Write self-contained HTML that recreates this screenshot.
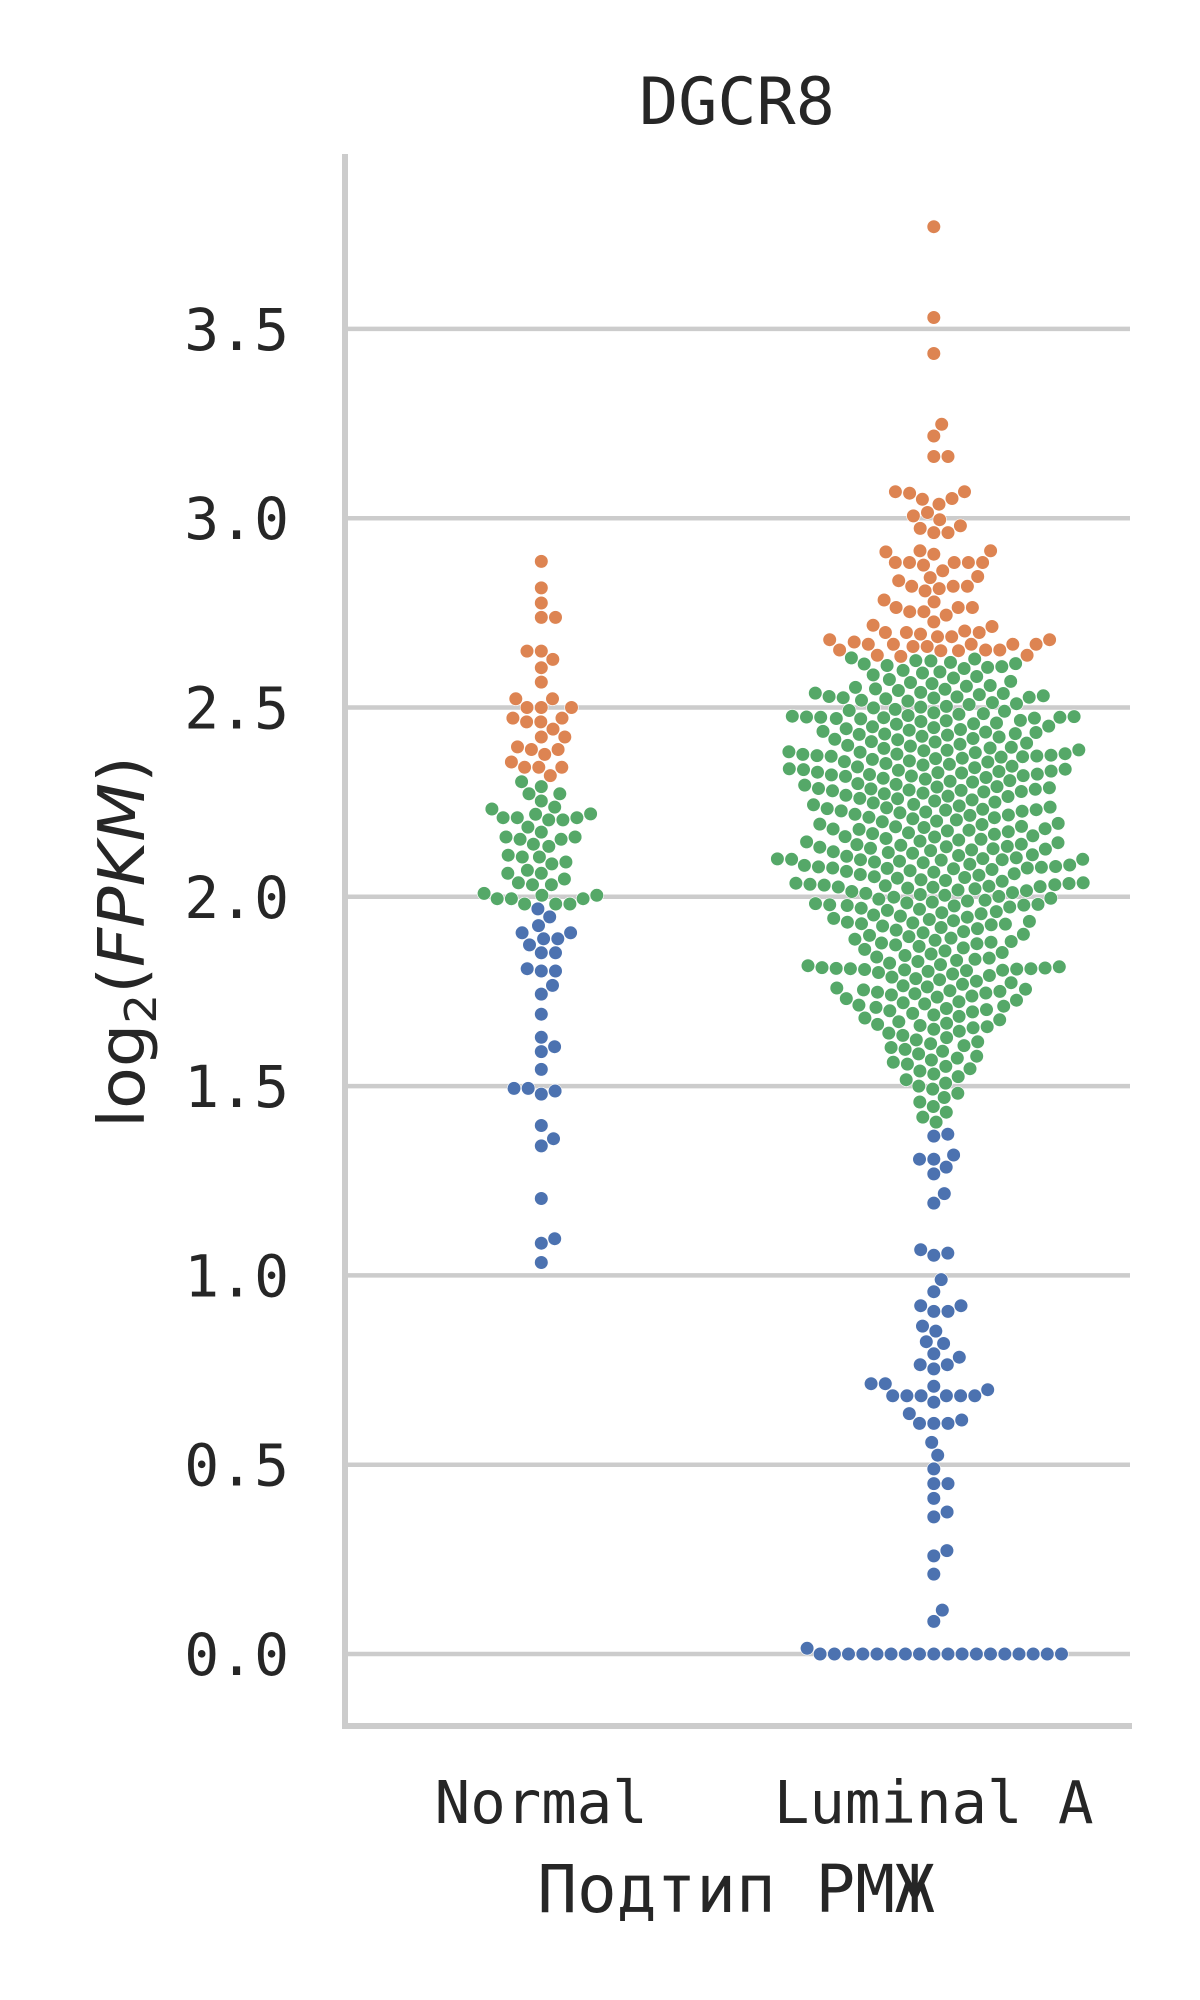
<!DOCTYPE html>
<html><head><meta charset="utf-8">
<style>
html,body{margin:0;padding:0;background:#fff;}
svg{display:block;}
text{fill:#262626;}
.mono{font-family:"DejaVu Sans Mono","Liberation Mono",monospace;}
</style></head>
<body>
<svg id="chart" width="1200" height="2000" viewBox="0 0 1200 2000" xmlns="http://www.w3.org/2000/svg">
  <g id="grid"></g>
  <g id="yticks"></g>
  <g id="points"></g>
  <line x1="345" y1="154" x2="345" y2="1729" stroke="#cccccc" stroke-width="6"/>
  <line x1="342" y1="1726" x2="1132" y2="1726" stroke="#cccccc" stroke-width="6"/>
  <text class="mono" x="737" y="124" font-size="65" text-anchor="middle">DGCR8</text>
  <g id="xticks"></g>
  <text class="mono" x="736" y="1912" font-size="66" text-anchor="middle">Подтип РМЖ</text>
  <text transform="translate(144,942) rotate(-90)" text-anchor="middle" font-size="64" font-family="DejaVu Sans, Liberation Sans, sans-serif" textLength="372" lengthAdjust="spacingAndGlyphs">log<tspan font-size="44" dy="12">2</tspan><tspan dy="-12">(</tspan><tspan font-style="italic">FPKM</tspan>)</text>
</svg>
<script>
const categories = ["Normal", "Luminal A"];
const yTicks = [0.0, 0.5, 1.0, 1.5, 2.0, 2.5, 3.0, 3.5];
const yTickLabels = ["0.0", "0.5", "1.0", "1.5", "2.0", "2.5", "3.0", "3.5"];

const normalHigh = [2.886,2.816,2.776,2.738,2.738,2.649,2.649,2.627,2.605,2.567,2.523,2.523,2.5,2.5,2.5,2.472,2.472,2.462,2.462,2.443,2.422,2.422,2.396,2.389,2.389,2.376,2.356,2.342,2.342,2.342,2.320];
const normalMid = [2.304,2.291,2.272,2.272,2.253,2.237,2.232,2.219,2.218,2.209,2.209,2.209,2.203,2.203,2.184,2.171,2.158,2.158,2.152,2.152,2.139,2.133,2.110,2.105,2.105,2.092,2.087,2.070,2.062,2.062,2.047,2.037,2.032,2.032,2.009,2.004,2.004,1.995,1.995,1.995,1.981,1.981,1.981];
const normalLow = [1.968,1.947,1.924,1.905,1.905,1.889,1.889,1.873,1.852,1.852,1.810,1.804,1.804,1.766,1.743,1.690,1.629,1.604,1.591,1.544,1.494,1.494,1.487,1.479,1.396,1.361,1.342,1.203,1.097,1.085,1.034];

const luminalHigh = [3.77,3.53,3.435,3.248,3.217,3.163,3.163,3.07,3.07,3.066,3.052,3.05,3.037,3.015,3.006,2.996,2.98,2.973,2.962,2.962,2.914,2.914,2.911,2.905,2.883,2.883,2.883,2.883,2.883,2.876,2.861,2.846,2.843,2.835,2.82,2.82,2.82,2.814,2.808,2.784,2.779,2.764,2.764,2.764,2.753,2.753,2.744,2.726,2.717,2.714,2.702,2.698,2.698,2.698,2.694,2.687,2.687,2.679,2.679,2.673,2.667,2.667,2.667,2.667,2.667,2.661,2.661,2.652,2.652,2.652,2.65,2.65,2.638,2.638,2.635];
const luminalMid = [
2.631,2.628,2.624,2.623,2.619,2.616,2.615,2.611,2.608,2.606,2.603,2.598,2.594,2.591,2.586,2.582,2.578,
2.574,2.569,2.566,2.563,2.558,2.556,2.553,2.549,2.548,2.545,2.540,2.538,2.537,2.534,2.531,2.529,2.528,2.527,2.526,2.525,
2.523,2.519,2.517,2.513,2.510,2.508,2.503,2.501,2.499,2.495,2.492,2.490,2.486,2.484,2.482,2.479,2.477,2.476,
2.475,2.474,2.474,2.473,2.472,2.471,2.470,2.466,2.465,2.463,2.459,2.457,2.456,2.451,2.449,2.447,2.444,2.442,2.440,2.437,2.435,2.434,2.431,2.430,2.429,2.427,
2.424,2.422,2.418,2.416,2.415,2.410,2.409,2.406,2.403,2.400,2.398,2.395,2.393,2.392,2.388,2.387,2.386,2.383,2.382,2.381,2.378,2.377,2.376,
2.374,2.373,2.372,2.371,2.370,2.369,2.366,2.365,2.363,2.359,2.357,2.356,2.352,2.350,2.348,2.345,2.343,2.341,2.338,2.337,2.336,2.334,2.332,2.331,2.329,2.328,2.327,
2.324,2.323,2.322,2.320,2.319,2.318,2.315,2.313,2.311,2.307,2.305,2.303,2.299,2.297,2.295,2.291,2.290,2.288,2.286,2.285,2.284,2.282,2.281,2.280,2.278,2.277,
2.274,2.272,2.268,2.266,2.265,2.260,2.259,2.256,2.253,2.250,2.248,2.244,2.243,2.240,2.237,2.235,2.233,2.231,2.230,2.229,2.227,2.226,
2.224,2.222,2.218,2.216,2.215,2.210,2.209,2.206,2.203,2.200,2.198,2.194,2.192,2.191,2.186,2.185,2.183,2.180,2.179,2.178,2.176,
2.174,2.172,2.169,2.167,2.165,2.161,2.159,2.158,2.154,2.152,2.150,2.147,2.145,2.143,2.139,2.138,2.136,2.133,2.132,2.131,2.128,2.127,2.126,
2.124,2.122,2.119,2.117,2.115,2.111,2.109,2.107,2.103,2.101,2.100,2.099,2.099,2.098,2.098,2.097,2.094,2.092,2.090,2.086,2.084,2.083,2.080,2.079,2.078,2.076,2.076,2.075,
2.074,2.072,2.069,2.067,2.065,2.061,2.059,2.057,2.053,2.051,2.049,2.045,2.043,2.041,2.037,2.036,2.035,2.033,2.032,2.031,2.029,2.028,2.027,2.026,2.025,
2.023,2.021,2.018,2.016,2.014,2.011,2.009,2.006,2.004,2.001,1.999,1.996,1.994,1.991,1.989,1.986,1.984,1.982,1.980,1.979,1.978,1.977,1.976,
1.973,1.970,1.967,1.964,1.961,1.958,1.955,1.952,1.949,1.946,1.943,1.940,1.937,1.935,1.933,1.931,1.929,1.928,1.926,
1.923,1.919,1.916,1.912,1.908,1.905,1.901,1.898,1.895,1.891,1.888,1.885,1.882,1.880,1.878,1.876,
1.873,1.869,1.865,1.861,1.857,1.853,1.849,1.845,1.841,1.838,1.835,1.832,1.829,
1.825,1.821,1.818,1.815,1.813,1.812,1.811,1.810,1.810,1.809,1.808,1.807,1.806,1.805,1.803,1.800,1.796,1.792,1.788,1.784,
1.781,1.777,1.773,1.769,1.765,1.762,1.759,1.756,1.754,1.752,1.750,1.748,1.746,1.744,1.741,1.738,1.735,1.731,
1.727,1.723,1.720,1.717,1.714,1.711,1.708,1.705,1.702,1.699,1.696,1.692,1.688,1.684,
1.680,1.675,1.670,1.666,1.663,1.660,1.657,1.654,1.650,1.645,1.640,
1.634,1.628,1.622,1.617,1.612,1.607,1.602,1.597,1.592,
1.585,1.579,1.574,1.569,1.563,1.558,1.552,1.546,
1.540,1.532,1.525,1.517,1.508,1.500,
1.492,1.481,1.470,1.458,1.446,1.431,1.418,1.405];
const luminalLow = [1.373,1.368,1.318,1.307,1.307,1.286,1.268,1.216,1.191,1.068,1.059,1.053,0.989,0.957,0.92,0.92,0.905,0.905,0.866,0.853,0.825,0.82,0.793,0.784,0.764,0.764,0.753,0.714,0.714,0.707,0.698,0.682,0.682,0.682,0.682,0.682,0.682,0.665,0.635,0.618,0.609,0.609,0.609,0.559,0.525,0.489,0.45,0.45,0.411,0.375,0.362,0.273,0.259,0.211,0.116,0.086,0.015,0,0,0,0,0,0,0,0,0,0,0,0,0,0,0,0,0,0];

const SVGNS = "http://www.w3.org/2000/svg";
const Y0 = 1654, PX_PER_UNIT = 378.6;
function yScale(v){ return Y0 - v * PX_PER_UNIT; }
const X_LEFT = 345, X_RIGHT = 1130;
function xScale(i){ const band = (X_RIGHT - X_LEFT) / categories.length; return X_LEFT + band * (i + 0.5); }
const colors = {low:"#4c72b0", mid:"#55a868", high:"#dd8452"};
const R = 6.8, D = 14.2;

const grid = document.getElementById('grid');
const yt = document.getElementById('yticks');
yTicks.forEach((t, i) => {
  const ln = document.createElementNS(SVGNS, 'line');
  
  
  ln.setAttribute('x1', X_LEFT); ln.setAttribute('x2', X_RIGHT);
  ln.setAttribute('y1', yScale(t)); ln.setAttribute('y2', yScale(t));
  ln.setAttribute('stroke', '#cccccc'); ln.setAttribute('stroke-width', '4.5');
  grid.appendChild(ln);
  const tx = document.createElementNS(SVGNS, 'text');
  
  
  tx.setAttribute('class', 'mono');
  tx.setAttribute('x', 289); tx.setAttribute('y', yScale(t) + 21);
  tx.setAttribute('font-size', '58'); tx.setAttribute('text-anchor', 'end');
  tx.textContent = yTickLabels[i];
  yt.appendChild(tx);
});

const xt = document.getElementById('xticks');
categories.forEach((c, i) => {
  const tx = document.createElementNS(SVGNS, 'text');
  
  
  tx.setAttribute('class', 'mono');
  tx.setAttribute('x', xScale(i)); tx.setAttribute('y', 1823);
  tx.setAttribute('font-size', '59'); tx.setAttribute('text-anchor', 'middle');
  tx.textContent = c;
  xt.appendChild(tx);
});

function swarm(groups, cx){
  let pts = [];
  groups.forEach(g => g.vals.forEach(v => pts.push({v, c:g.color, y:yScale(v)})));
  pts.sort((a,b) => a.v - b.v);
  const placed = [];
  pts.forEach(p => {
    const near = placed.filter(q => Math.abs(q.y - p.y) < D);
    const cands = [0];
    near.forEach(q => { const dx = Math.sqrt(D*D - (q.y-p.y)*(q.y-p.y)); cands.push(q.dx + dx, q.dx - dx); });
    cands.sort((a,b) => Math.abs(a) - Math.abs(b));
    let best = 0;
    for (const c of cands){
      let ok = true;
      for (const q of near){ const ddx = q.dx - c, ddy = q.y - p.y; if (ddx*ddx + ddy*ddy < D*D - 0.01){ ok = false; break; } }
      if (ok){ best = c; break; }
    }
    p.dx = best; placed.push(p);
  });
  return placed.map(p => ({x: cx + p.dx, y: p.y, c: p.c}));
}

const gp = document.getElementById('points');
const all = [
  swarm([{vals:normalLow,color:colors.low},{vals:normalMid,color:colors.mid},{vals:normalHigh,color:colors.high}], xScale(0)),
  swarm([{vals:luminalLow,color:colors.low},{vals:luminalMid,color:colors.mid},{vals:luminalHigh,color:colors.high}], xScale(1))
];
all.forEach((set, gi) => set.forEach(p => {
  const ci = document.createElementNS(SVGNS, 'circle');
  
  
  ci.setAttribute('cx', p.x.toFixed(1)); ci.setAttribute('cy', p.y.toFixed(1));
  ci.setAttribute('r', R); ci.setAttribute('fill', p.c);
  ci.setAttribute('stroke', '#ffffff'); ci.setAttribute('stroke-width', '0.6');
  gp.appendChild(ci);
}));
</script>
</body></html>
